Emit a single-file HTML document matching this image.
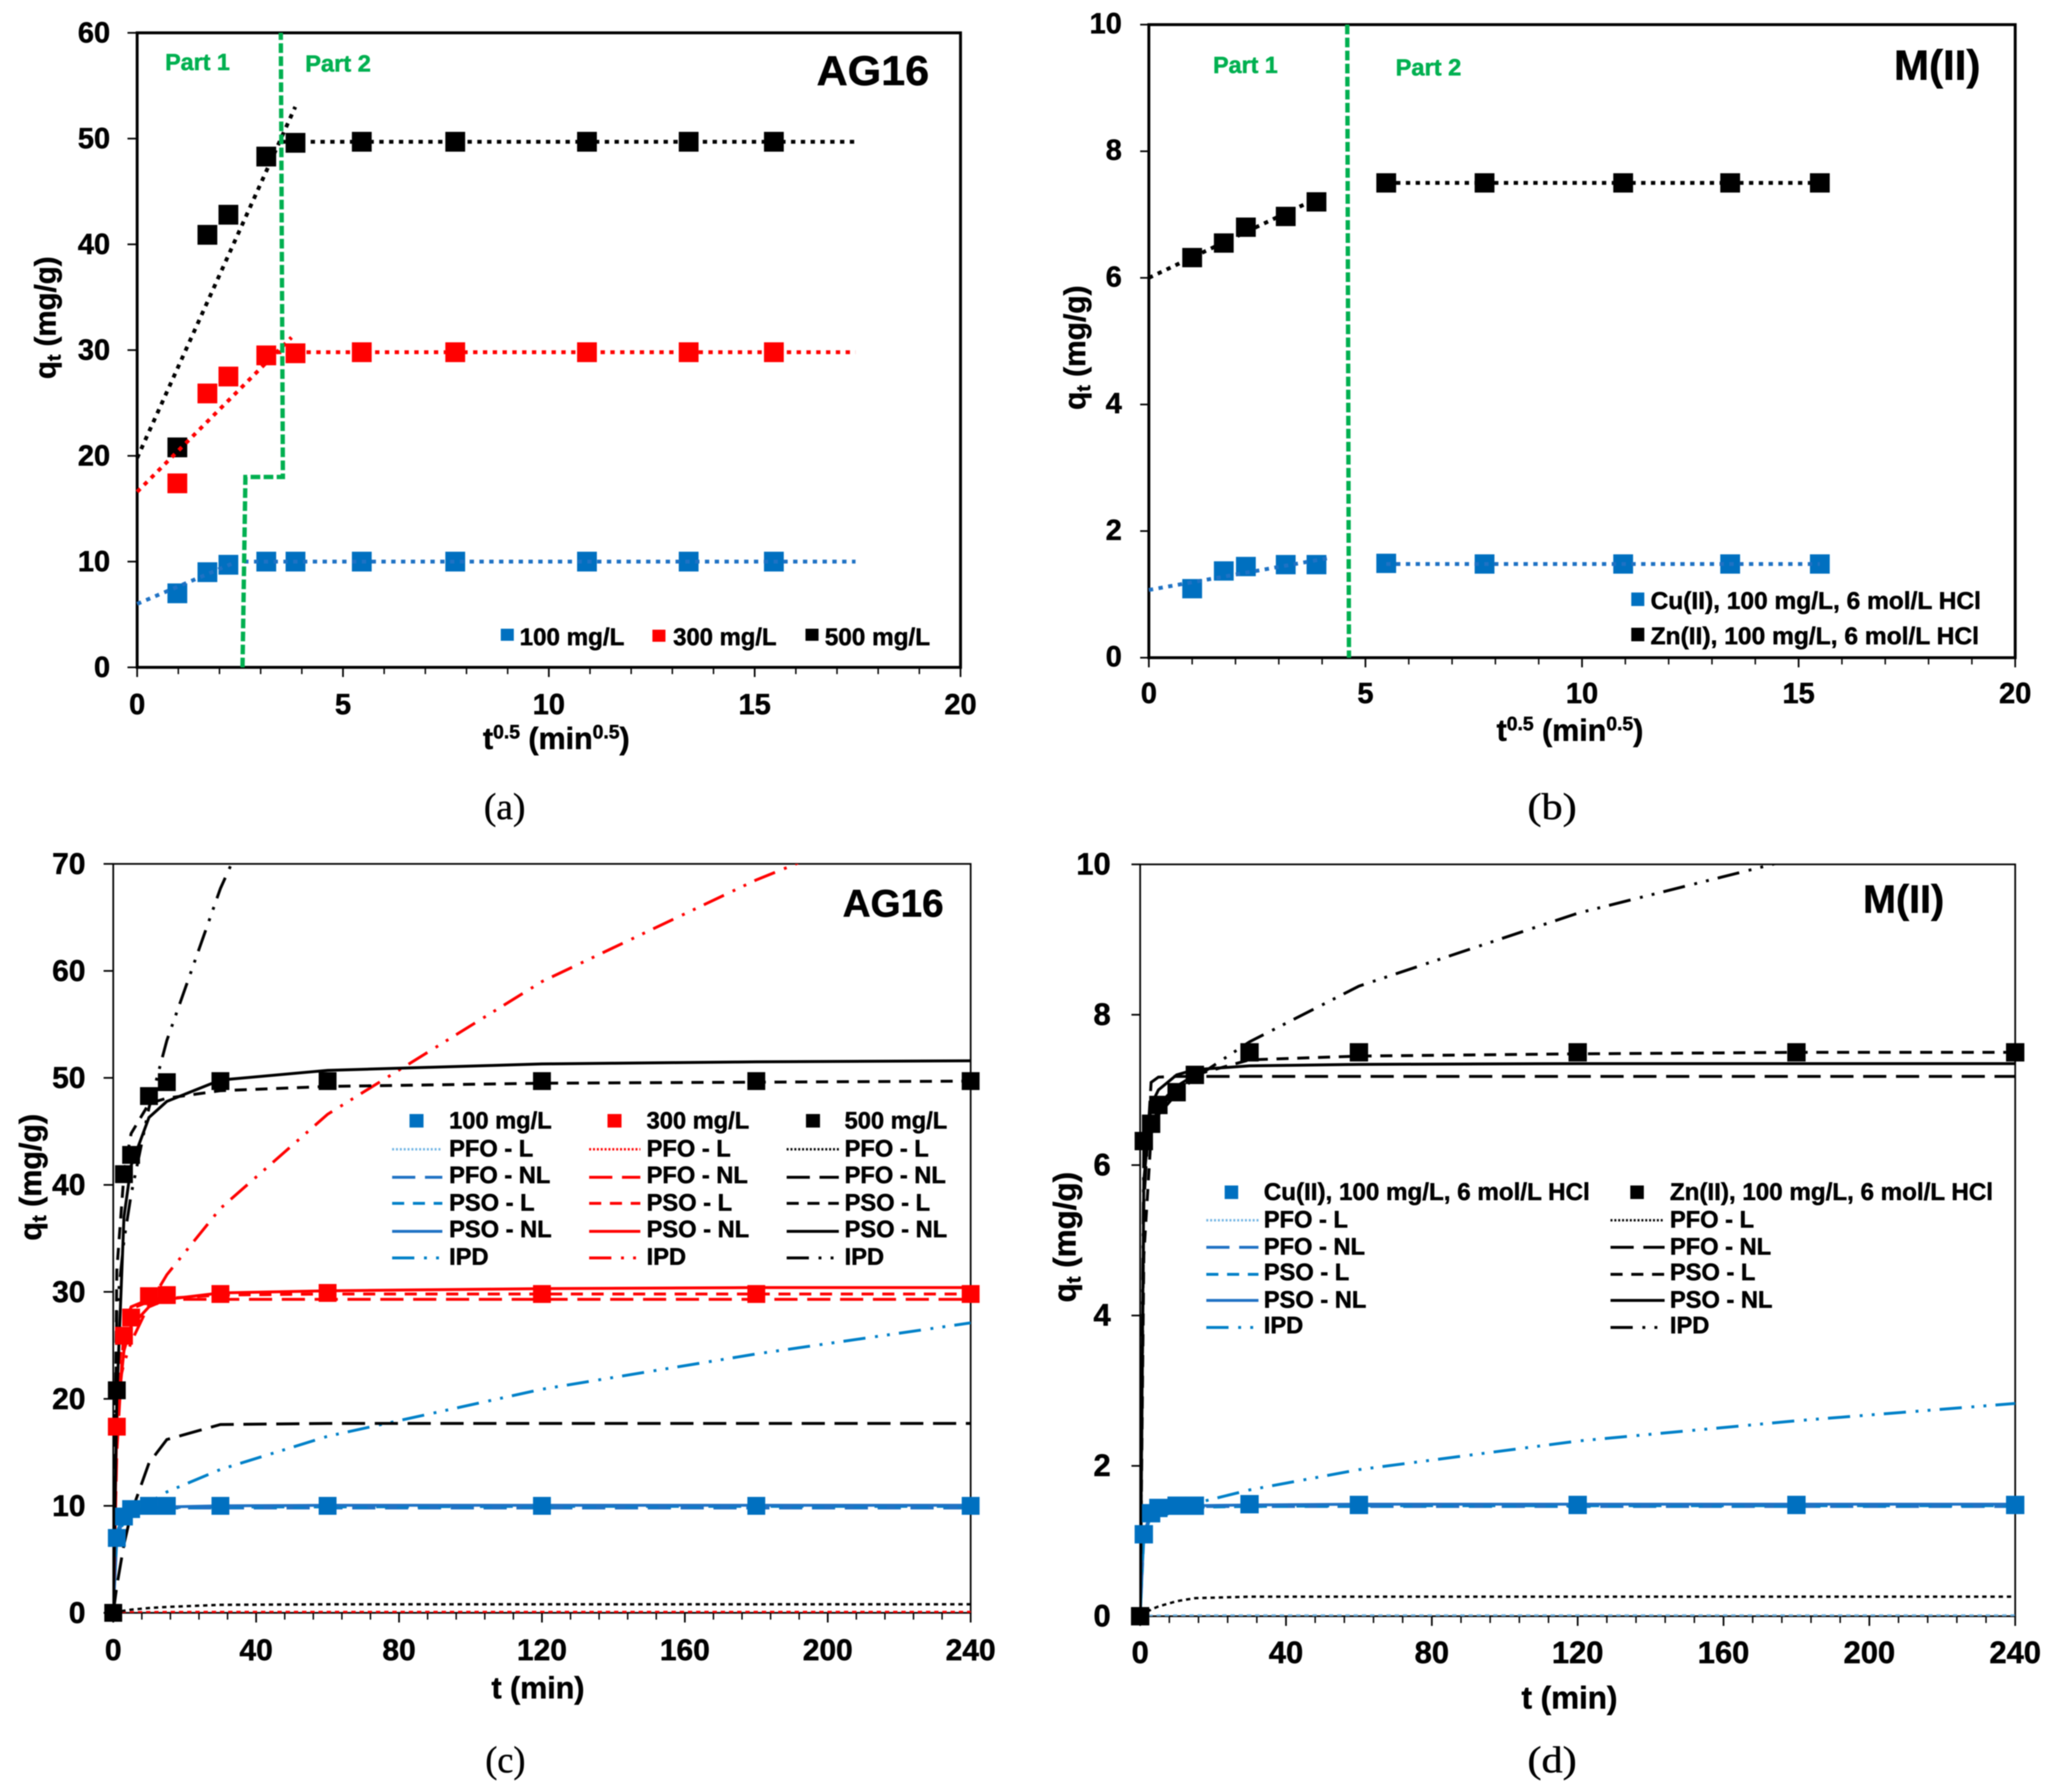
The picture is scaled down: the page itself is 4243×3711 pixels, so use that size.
<!DOCTYPE html>
<html lang="en">
<head>
<meta charset="utf-8">
<title>Adsorption kinetics of AG16 and M(II)</title>
<style>
html,body{margin:0;padding:0;background:#fff}
svg{display:block;filter:blur(1px)}
text{font-family:"Liberation Sans",sans-serif;font-weight:700;fill:#000;stroke:#000;stroke-width:1}
.caption{font-family:"Liberation Serif",serif;font-weight:400;font-size:77px;stroke-width:.8}
.part{fill:#00b050;stroke:#00b050;font-size:48px}
.lg{font-size:49px}
.fit{fill:none;stroke-width:8;stroke-dasharray:9 11.3}
.boundary{fill:none;stroke:#00b050;stroke-width:9;stroke-dasharray:20 7}
.frame{fill:none;stroke:#000}
.tick{stroke:#000}
.model{fill:none;stroke-width:6}
.pfo-l{stroke-width:5;stroke-dasharray:9 8}
.pfo-nl{stroke-dasharray:48 20}
.pso-l{stroke-dasharray:25 18}
.ipd{stroke-dasharray:46 20 6 19 6 19}
.s100{stroke:#1f72c4}
.s100.pfo-l{stroke:#6fb4e4}
.s100.pso-l,.s100.ipd{stroke:#0080c8}
.s300{stroke:#ff0000}
.s500{stroke:#000}
.sample{stroke-width:6}
.sample.pfo-l{stroke-width:5;stroke-dasharray:4 4}
</style>
</head>
<body>
<svg xmlns="http://www.w3.org/2000/svg" width="4243" height="3711" viewBox="0 0 4243 3711">
<defs>
<clipPath id="clip-c"><rect x="234" y="1789" width="1776" height="1551"/></clipPath>
<clipPath id="clip-d"><rect x="2361" y="1790" width="1812" height="1557"/></clipPath>
</defs>

<!-- Panel (a) -->
<g id="panel-a">
  <g id="a-plot"></g>
  <text x="342" y="145" class="part" textLength="134" lengthAdjust="spacingAndGlyphs">Part 1</text>
  <text x="632" y="148" class="part" textLength="136" lengthAdjust="spacingAndGlyphs">Part 2</text>
  <text x="1691" y="176" font-size="86" textLength="233" lengthAdjust="spacingAndGlyphs">AG16</text>
  <text transform="translate(115,658) rotate(-90)" text-anchor="middle" font-size="61">q<tspan dy="10" font-size="40">t</tspan><tspan dy="-10"> (mg/g)</tspan></text>
  <text x="1152" y="1551" text-anchor="middle" font-size="63">t<tspan dy="-22" font-size="40">0.5</tspan><tspan dy="22"> (min</tspan><tspan dy="-22" font-size="40">0.5</tspan><tspan dy="22">)</tspan></text>
  <g>
    <rect x="1037" y="1302" width="27" height="25" fill="#0070c0"/>
    <text x="1076" y="1336" font-size="50" textLength="217" lengthAdjust="spacingAndGlyphs">100 mg/L</text>
  </g>
  <g>
    <rect x="1351" y="1304" width="27" height="25" fill="#ff0000"/>
    <text x="1394" y="1336" font-size="50" textLength="214" lengthAdjust="spacingAndGlyphs">300 mg/L</text>
  </g>
  <g>
    <rect x="1668" y="1302" width="27" height="25" fill="#000"/>
    <text x="1708" y="1336" font-size="50" textLength="218" lengthAdjust="spacingAndGlyphs">500 mg/L</text>
  </g>
  <text x="1002" y="1696" class="caption" textLength="86" lengthAdjust="spacingAndGlyphs">(a)</text>
</g>

<!-- Panel (b) -->
<g id="panel-b">
  <g id="b-plot"></g>
  <text x="2512" y="151" class="part" textLength="134" lengthAdjust="spacingAndGlyphs">Part 1</text>
  <text x="2890" y="156" class="part" textLength="136" lengthAdjust="spacingAndGlyphs">Part 2</text>
  <text x="3922" y="165" font-size="87" textLength="179" lengthAdjust="spacingAndGlyphs">M(II)</text>
  <text transform="translate(2247,720) rotate(-90)" text-anchor="middle" font-size="62">q<tspan dy="10" font-size="40">t</tspan><tspan dy="-10"> (mg/g)</tspan></text>
  <text x="3251" y="1534" text-anchor="middle" font-size="63">t<tspan dy="-22" font-size="40">0.5</tspan><tspan dy="22"> (min</tspan><tspan dy="-22" font-size="40">0.5</tspan><tspan dy="22">)</tspan></text>
  <g>
    <rect x="3378" y="1227" width="27" height="28" fill="#0070c0"/>
    <text x="3418" y="1261" font-size="50" textLength="684" lengthAdjust="spacingAndGlyphs">Cu(II), 100 mg/L, 6 mol/L HCl</text>
  </g>
  <g>
    <rect x="3378" y="1300" width="27" height="28" fill="#000"/>
    <text x="3418" y="1334" font-size="50" textLength="680" lengthAdjust="spacingAndGlyphs">Zn(II), 100 mg/L, 6 mol/L HCl</text>
  </g>
  <text x="3163" y="1696" class="caption" textLength="102" lengthAdjust="spacingAndGlyphs">(b)</text>
</g>

<!-- Panel (c) -->
<g id="panel-c">
  <g id="c-plot"></g>
  <text x="1745" y="1898" font-size="80" textLength="209" lengthAdjust="spacingAndGlyphs">AG16</text>
  <text transform="translate(85,2438) rotate(-90)" text-anchor="middle" font-size="63">q<tspan dy="10" font-size="42">t</tspan><tspan dy="-10"> (mg/g)</tspan></text>
  <text x="1114" y="3517" text-anchor="middle" font-size="63">t (min)</text>
  <g>
    <rect x="848" y="2307" width="29" height="28" fill="#0070c0"/>
    <rect x="1258" y="2307" width="29" height="28" fill="#ff0000"/>
    <rect x="1669" y="2307" width="29" height="28" fill="#000"/>
    <text x="930" y="2337" class="lg">100 mg/L</text>
    <text x="1339" y="2337" class="lg">300 mg/L</text>
    <text x="1749" y="2337" class="lg">500 mg/L</text>
  </g>
  <g>
    <line x1="812" x2="916" y1="2380" y2="2380" class="model sample s100 pfo-l"/>
    <text x="930" y="2395" class="lg">PFO - L</text>
    <line x1="812" x2="916" y1="2438" y2="2438" class="model sample s100 pfo-nl"/>
    <text x="930" y="2450" class="lg">PFO - NL</text>
    <line x1="812" x2="916" y1="2492" y2="2492" class="model sample s100 pso-l"/>
    <text x="930" y="2507" class="lg">PSO - L</text>
    <line x1="812" x2="916" y1="2550" y2="2550" class="model sample s100"/>
    <text x="930" y="2562" class="lg">PSO - NL</text>
    <line x1="812" x2="916" y1="2605" y2="2605" class="model sample s100 ipd"/>
    <text x="930" y="2619" class="lg">IPD</text>
  </g>
  <g>
    <line x1="1220" x2="1326" y1="2380" y2="2380" class="model sample s300 pfo-l"/>
    <text x="1339" y="2395" class="lg">PFO - L</text>
    <line x1="1220" x2="1326" y1="2438" y2="2438" class="model sample s300 pfo-nl"/>
    <text x="1339" y="2450" class="lg">PFO - NL</text>
    <line x1="1220" x2="1326" y1="2492" y2="2492" class="model sample s300 pso-l"/>
    <text x="1339" y="2507" class="lg">PSO - L</text>
    <line x1="1220" x2="1326" y1="2550" y2="2550" class="model sample s300"/>
    <text x="1339" y="2562" class="lg">PSO - NL</text>
    <line x1="1220" x2="1326" y1="2605" y2="2605" class="model sample s300 ipd"/>
    <text x="1339" y="2619" class="lg">IPD</text>
  </g>
  <g>
    <line x1="1629" x2="1737" y1="2380" y2="2380" class="model sample s500 pfo-l"/>
    <text x="1749" y="2395" class="lg">PFO - L</text>
    <line x1="1629" x2="1737" y1="2438" y2="2438" class="model sample s500 pfo-nl"/>
    <text x="1749" y="2450" class="lg">PFO - NL</text>
    <line x1="1629" x2="1737" y1="2492" y2="2492" class="model sample s500 pso-l"/>
    <text x="1749" y="2507" class="lg">PSO - L</text>
    <line x1="1629" x2="1737" y1="2550" y2="2550" class="model sample s500"/>
    <text x="1749" y="2562" class="lg">PSO - NL</text>
    <line x1="1629" x2="1737" y1="2605" y2="2605" class="model sample s500 ipd"/>
    <text x="1749" y="2619" class="lg">IPD</text>
  </g>
  <text x="1005" y="3670" class="caption" textLength="83" lengthAdjust="spacingAndGlyphs">(c)</text>
</g>

<!-- Panel (d) -->
<g id="panel-d">
  <g id="d-plot"></g>
  <text x="3858" y="1890" font-size="82" textLength="168" lengthAdjust="spacingAndGlyphs">M(II)</text>
  <text transform="translate(2227,2562) rotate(-90)" text-anchor="middle" font-size="65">q<tspan dy="10" font-size="42">t</tspan><tspan dy="-10"> (mg/g)</tspan></text>
  <text x="3250" y="3538" text-anchor="middle" font-size="65">t (min)</text>
  <g>
    <rect x="2536" y="2455" width="28" height="28" fill="#0070c0"/>
    <text x="2617" y="2485" font-size="50" textLength="675" lengthAdjust="spacingAndGlyphs">Cu(II), 100 mg/L, 6 mol/L HCl</text>
    <line x1="2498" x2="2606" y1="2527" y2="2527" class="model sample s100 pfo-l"/>
    <text x="2617" y="2542" class="lg">PFO - L</text>
    <line x1="2498" x2="2606" y1="2583" y2="2583" class="model sample s100 pfo-nl"/>
    <text x="2617" y="2598" class="lg">PFO - NL</text>
    <line x1="2498" x2="2606" y1="2639" y2="2639" class="model sample s100 pso-l"/>
    <text x="2617" y="2651" class="lg">PSO - L</text>
    <line x1="2498" x2="2606" y1="2693" y2="2693" class="model sample s100"/>
    <text x="2617" y="2708" class="lg">PSO - NL</text>
    <line x1="2498" x2="2606" y1="2749" y2="2749" class="model sample s100 ipd"/>
    <text x="2617" y="2761" class="lg">IPD</text>
  </g>
  <g>
    <rect x="3376" y="2455" width="28" height="28" fill="#000"/>
    <text x="3458" y="2485" font-size="50" textLength="669" lengthAdjust="spacingAndGlyphs">Zn(II), 100 mg/L, 6 mol/L HCl</text>
    <line x1="3335" x2="3447" y1="2527" y2="2527" class="model sample s500 pfo-l"/>
    <text x="3458" y="2542" class="lg">PFO - L</text>
    <line x1="3335" x2="3447" y1="2583" y2="2583" class="model sample s500 pfo-nl"/>
    <text x="3458" y="2598" class="lg">PFO - NL</text>
    <line x1="3335" x2="3447" y1="2639" y2="2639" class="model sample s500 pso-l"/>
    <text x="3458" y="2651" class="lg">PSO - L</text>
    <line x1="3335" x2="3447" y1="2693" y2="2693" class="model sample s500"/>
    <text x="3458" y="2708" class="lg">PSO - NL</text>
    <line x1="3335" x2="3447" y1="2749" y2="2749" class="model sample s500 ipd"/>
    <text x="3458" y="2761" class="lg">IPD</text>
  </g>
  <text x="3163" y="3670" class="caption" textLength="102" lengthAdjust="spacingAndGlyphs">(d)</text>
</g>
</svg>

<script>
/* ---------- shared categories ---------- */
const rootTime = [1, 1.73, 2.24, 3.16, 3.87, 5.48, 7.75, 10.95, 13.42, 15.49];
const minutes = [0, 1, 3, 5, 10, 15, 30, 60, 120, 180, 240];

/* ---------- tick labels ---------- */
const rootTimeTicks = [0, 5, 10, 15, 20];
const minuteTicks = [0, 40, 80, 120, 160, 200, 240];
const aYTicks = [0, 10, 20, 30, 40, 50, 60];
const bYTicks = [0, 2, 4, 6, 8, 10];
const cYTicks = [0, 10, 20, 30, 40, 50, 60, 70];
const dYTicks = [0, 2, 4, 6, 8, 10];

/* ---------- panel (a) values ---------- */
const a100 = [7.0, 9.0, 9.7, 10.0, 10.0, 10.0, 10.0, 10.0, 10.0, 10.0];
const a300 = [17.4, 25.9, 27.5, 29.5, 29.7, 29.8, 29.8, 29.8, 29.8, 29.8];
const a500 = [20.8, 40.9, 42.8, 48.3, 49.6, 49.7, 49.7, 49.7, 49.7, 49.7];
const aFit100Part1X = [0, 2.3];
const aFit100Part1Y = [6.0, 9.8];
const aFit100Part2X = [2.6, 17.45];
const aFit100Part2Y = [10.0, 10.0];
const aFit300Part1X = [0, 3.75];
const aFit300Part1Y = [16.6, 31.2];
const aFit300Part2X = [3.16, 17.45];
const aFit300Part2Y = [29.8, 29.8];
const aFit500Part1X = [0, 3.84];
const aFit500Part1Y = [19.8, 53.0];
const aFit500Part2X = [3.5, 17.55];
const aFit500Part2Y = [49.7, 49.7];
const aBoundaryX = [2.56, 2.63, 3.54, 3.49];
const aBoundaryY = [0, 18, 18, 60];

/* ---------- panel (b) values ---------- */
const bCu = [1.09, 1.37, 1.44, 1.47, 1.47, 1.49, 1.48, 1.48, 1.48, 1.48];
const bZn = [6.32, 6.55, 6.8, 6.97, 7.2, 7.5, 7.5, 7.5, 7.5, 7.5];
const bFitCuPart1X = [0, 4.2];
const bFitCuPart1Y = [1.07, 1.58];
const bFitCuPart2X = [5.48, 15.49];
const bFitCuPart2Y = [1.48, 1.48];
const bFitZnPart1X = [0, 3.87];
const bFitZnPart1Y = [6.0, 7.25];
const bFitZnPart2X = [5.48, 15.49];
const bFitZnPart2Y = [7.5, 7.5];
const bBoundaryX = [4.58, 4.62];
const bBoundaryY = [10, 0];

/* ---------- panel (c) values ---------- */
const c100 = [0, 7.0, 9.0, 9.7, 10.0, 10.0, 10.0, 10.0, 10.0, 10.0, 10.0];
const c300 = [0, 17.4, 25.9, 27.6, 29.6, 29.7, 29.8, 29.9, 29.8, 29.8, 29.8];
const c500 = [0, 20.8, 41.0, 42.8, 48.3, 49.6, 49.7, 49.7, 49.7, 49.7, 49.7];
const c100PfoL = [0, 0.02, 0.04, 0.05, 0.06, 0.06, 0.07, 0.07, 0.07, 0.07, 0.07];
const c100PfoNl = [0, 7.0, 9.0, 9.6, 9.8, 9.8, 9.8, 9.8, 9.8, 9.8, 9.8];
const c100PsoL = [0, 7.5, 9.2, 9.5, 9.8, 9.85, 9.9, 9.9, 9.95, 9.95, 9.95];
const c100PsoNl = [0, 6.9, 9.0, 9.5, 9.8, 9.9, 10.0, 10.05, 10.05, 10.05, 10.05];
const c100Ipd = [0, 7.4, 8.4, 9.0, 10.3, 11.3, 13.4, 16.5, 20.9, 24.2, 27.1];
const c300PfoL = [0, 0.02, 0.04, 0.05, 0.06, 0.07, 0.08, 0.08, 0.08, 0.08, 0.08];
const c300PfoNl = [0, 15.0, 26.8, 28.6, 29.3, 29.3, 29.3, 29.3, 29.3, 29.3, 29.3];
const c300PsoL = [0, 21.0, 27.0, 28.4, 29.1, 29.4, 29.7, 29.8, 29.8, 29.8, 29.8];
const c300PsoNl = [0, 18.0, 24.5, 26.8, 28.6, 29.3, 29.9, 30.1, 30.3, 30.4, 30.4];
const c300Ipd = [0, 20.5, 23.3, 25.3, 28.8, 31.6, 37.8, 46.6, 59.0, 68.5, 76.6];
const c500PfoL = [0, 0.1, 0.2, 0.3, 0.45, 0.55, 0.75, 0.8, 0.8, 0.8, 0.8];
const c500PfoNl = [0, 2.5, 6.4, 9.3, 14.0, 16.2, 17.6, 17.7, 17.7, 17.7, 17.7];
const c500PsoL = [0, 32.0, 41.0, 44.8, 47.6, 48.1, 48.8, 49.2, 49.5, 49.6, 49.7];
const c500PsoNl = [0, 20.0, 37.0, 41.8, 46.3, 47.8, 49.8, 50.7, 51.3, 51.5, 51.6];
const c500Ipd = [0, 28.4, 34.8, 39.1, 47.2, 53.5, 67.7, 90.0, 114.0, 135.0, 153.0];

/* ---------- panel (d) values ---------- */
const dCu = [0, 1.09, 1.37, 1.44, 1.47, 1.47, 1.49, 1.48, 1.48, 1.48, 1.48];
const dZn = [0, 6.32, 6.55, 6.8, 6.97, 7.2, 7.5, 7.5, 7.5, 7.5, 7.5];
const dCuPfoL = [0, 0.002, 0.005, 0.007, 0.009, 0.01, 0.01, 0.01, 0.01, 0.01, 0.01];
const dCuPfoNl = [0, 1.25, 1.42, 1.45, 1.46, 1.46, 1.46, 1.46, 1.46, 1.46, 1.46];
const dCuPsoL = [0, 1.05, 1.35, 1.4, 1.44, 1.45, 1.46, 1.47, 1.47, 1.47, 1.47];
const dCuPsoNl = [0, 1.1, 1.38, 1.43, 1.46, 1.47, 1.48, 1.49, 1.49, 1.49, 1.49];
const dCuIpd = [0, 1.15, 1.25, 1.3, 1.42, 1.5, 1.68, 1.95, 2.33, 2.6, 2.83];
const dZnPfoL = [0, 0.03, 0.09, 0.13, 0.2, 0.24, 0.26, 0.26, 0.26, 0.26, 0.26];
const dZnPfoNl = [0, 5.5, 7.1, 7.17, 7.18, 7.18, 7.18, 7.18, 7.18, 7.18, 7.18];
const dZnPsoL = [0, 4.8, 6.4, 6.8, 7.05, 7.2, 7.4, 7.45, 7.48, 7.5, 7.5];
const dZnPsoNl = [0, 5.8, 6.8, 7.0, 7.2, 7.27, 7.32, 7.34, 7.35, 7.35, 7.35];
const dZnIpd = [0, 6.3, 6.52, 6.67, 6.95, 7.16, 7.64, 8.38, 9.35, 10.08, 10.7];

/* ---------- drawing helpers ---------- */
const SVG_NS = 'http://www.w3.org/2000/svg';

function linearScale(d0, d1, p0, p1) {
  return function (v) { return p0 + (v - d0) * (p1 - p0) / (d1 - d0); };
}

function drawLine(parent, x1, y1, x2, y2, width, name) {
  const el = document.createElementNS(SVG_NS, 'line');
  
  
  el.setAttribute('x1', x1);
  el.setAttribute('y1', y1);
  el.setAttribute('x2', x2);
  el.setAttribute('y2', y2);
  el.setAttribute('class', 'tick');
  el.setAttribute('stroke-width', width);
  parent.appendChild(el);
}

function drawLabel(parent, x, y, anchor, size, value, name) {
  const el = document.createElementNS(SVG_NS, 'text');
  
  
  el.setAttribute('x', x);
  el.setAttribute('y', y);
  el.setAttribute('text-anchor', anchor);
  el.setAttribute('font-size', size);
  el.textContent = String(value);
  parent.appendChild(el);
}

function drawSeries(parent, xs, ys, sx, sy, cls, name, clip) {
  const el = document.createElementNS(SVG_NS, 'polyline');
  
  
  el.setAttribute('points', xs.map(function (x, i) { return sx(x).toFixed(1) + ',' + sy(ys[i]).toFixed(1); }).join(' '));
  el.setAttribute('class', cls);
  if (clip) el.setAttribute('clip-path', 'url(#' + clip + ')');
  parent.appendChild(el);
}

function drawMarkers(parent, xs, ys, sx, sy, w, h, fill, name) {
  xs.forEach(function (x, i) {
    const el = document.createElementNS(SVG_NS, 'rect');
    
    
    el.setAttribute('x', sx(x) - w / 2);
    el.setAttribute('y', sy(ys[i]) - h / 2);
    el.setAttribute('width', w);
    el.setAttribute('height', h);
    el.setAttribute('fill', fill);
    parent.appendChild(el);
  });
}

function drawAxes(parent, opt) {
  const sx = opt.sx, sy = opt.sy;
  const left = sx(0), right = sx(opt.xMax);
  const bottom = sy(0), top = sy(opt.yMax);
  const frame = document.createElementNS(SVG_NS, 'rect');
  
  
  frame.setAttribute('x', left);
  frame.setAttribute('y', top);
  frame.setAttribute('width', right - left);
  frame.setAttribute('height', bottom - top);
  frame.setAttribute('class', 'frame');
  frame.setAttribute('stroke-width', opt.frameWidth);
  parent.appendChild(frame);
  for (let v = 0; v <= opt.xMax + 1e-6; v += opt.xMinor) {
    drawLine(parent, sx(v), bottom, sx(v), bottom + opt.minorLen, 3, 'x-minor-tick');
  }
  opt.xTicks.forEach(function (v) {
    drawLine(parent, sx(v), bottom, sx(v), bottom + opt.majorLen, 3.5, 'x-major-tick');
    drawLabel(parent, sx(v), opt.xLabelY, 'middle', opt.fontSize, v, 'x-tick-label');
  });
  opt.yTicks.forEach(function (v) {
    drawLine(parent, left - opt.yTickLen, sy(v), left, sy(v), 3.5, 'y-major-tick');
    drawLabel(parent, opt.yLabelX, sy(v) + opt.yLabelShift, 'end', opt.fontSize, v, 'y-tick-label');
  });
}

/* ---------- panel (a) ---------- */
(function () {
  const g = document.getElementById('a-plot');
  const sx = linearScale(0, 20, 284, 1989);
  const sy = linearScale(0, 60, 1382, 68);
  const markerX = linearScale(0, 20, 282, 1987);
  drawAxes(g, { sx: sx, sy: sy, xMax: 20, yMax: 60, xMinor: 1, xTicks: rootTimeTicks, yTicks: aYTicks,
    frameWidth: 6, minorLen: 14, majorLen: 20, yTickLen: 20, fontSize: 60, xLabelY: 1479, yLabelX: 228, yLabelShift: 20 });
  drawMarkers(g, rootTime, a100, markerX, sy, 41, 41, '#0070c0', 'marker-100-mg-l');
  drawMarkers(g, rootTime, a300, markerX, sy, 41, 41, '#ff0000', 'marker-300-mg-l');
  drawMarkers(g, rootTime, a500, markerX, sy, 41, 41, '#000000', 'marker-500-mg-l');
  drawSeries(g, aFit100Part1X, aFit100Part1Y, sx, sy, 'fit s100', 'fit-100-part-1');
  drawSeries(g, aFit100Part2X, aFit100Part2Y, sx, sy, 'fit s100', 'fit-100-part-2');
  drawSeries(g, aFit300Part1X, aFit300Part1Y, sx, sy, 'fit s300', 'fit-300-part-1');
  drawSeries(g, aFit300Part2X, aFit300Part2Y, sx, sy, 'fit s300', 'fit-300-part-2');
  drawSeries(g, aFit500Part1X, aFit500Part1Y, sx, sy, 'fit s500', 'fit-500-part-1');
  drawSeries(g, aFit500Part2X, aFit500Part2Y, sx, sy, 'fit s500', 'fit-500-part-2');
  drawSeries(g, aBoundaryX, aBoundaryY, sx, sy, 'boundary', 'part-boundary');
})();

/* ---------- panel (b) ---------- */
(function () {
  const g = document.getElementById('b-plot');
  const sx = linearScale(0, 20, 2379, 4173);
  const sy = linearScale(0, 10, 1362, 51);
  drawAxes(g, { sx: sx, sy: sy, xMax: 20, yMax: 10, xMinor: 1, xTicks: rootTimeTicks, yTicks: bYTicks,
    frameWidth: 6, minorLen: 14, majorLen: 20, yTickLen: 18, fontSize: 60, xLabelY: 1456, yLabelX: 2323, yLabelShift: 18 });
  drawMarkers(g, rootTime, bCu, sx, sy, 41, 40, '#0070c0', 'marker-cu');
  drawMarkers(g, rootTime, bZn, sx, sy, 41, 40, '#000000', 'marker-zn');
  drawSeries(g, bFitCuPart1X, bFitCuPart1Y, sx, sy, 'fit s100', 'fit-cu-part-1');
  drawSeries(g, bFitCuPart2X, bFitCuPart2Y, sx, sy, 'fit s100', 'fit-cu-part-2');
  drawSeries(g, bFitZnPart1X, bFitZnPart1Y, sx, sy, 'fit s500', 'fit-zn-part-1');
  drawSeries(g, bFitZnPart2X, bFitZnPart2Y, sx, sy, 'fit s500', 'fit-zn-part-2');
  drawSeries(g, bBoundaryX, bBoundaryY, sx, sy, 'boundary', 'part-boundary');
})();

/* ---------- panel (c) ---------- */
(function () {
  const g = document.getElementById('c-plot');
  const sx = linearScale(0, 240, 234.5, 2010);
  const sy = linearScale(0, 70, 3340, 1789);
  drawAxes(g, { sx: sx, sy: sy, xMax: 240, yMax: 70, xMinor: 8, xTicks: minuteTicks, yTicks: cYTicks,
    frameWidth: 3.5, minorLen: 14, majorLen: 20, yTickLen: 20, fontSize: 62, xLabelY: 3438, yLabelX: 177, yLabelShift: 21 });
  drawSeries(g, minutes, c100PfoL, sx, sy, 'model s100 pfo-l', 'curve-100-pfo-l', 'clip-c');
  drawSeries(g, minutes, c100PfoNl, sx, sy, 'model s100 pfo-nl', 'curve-100-pfo-nl', 'clip-c');
  drawSeries(g, minutes, c100PsoL, sx, sy, 'model s100 pso-l', 'curve-100-pso-l', 'clip-c');
  drawSeries(g, minutes, c100PsoNl, sx, sy, 'model s100', 'curve-100-pso-nl', 'clip-c');
  drawSeries(g, minutes, c100Ipd, sx, sy, 'model s100 ipd', 'curve-100-ipd', 'clip-c');
  drawSeries(g, minutes, c300PfoL, sx, sy, 'model s300 pfo-l', 'curve-300-pfo-l', 'clip-c');
  drawSeries(g, minutes, c300PfoNl, sx, sy, 'model s300 pfo-nl', 'curve-300-pfo-nl', 'clip-c');
  drawSeries(g, minutes, c300PsoL, sx, sy, 'model s300 pso-l', 'curve-300-pso-l', 'clip-c');
  drawSeries(g, minutes, c300PsoNl, sx, sy, 'model s300', 'curve-300-pso-nl', 'clip-c');
  drawSeries(g, minutes, c300Ipd, sx, sy, 'model s300 ipd', 'curve-300-ipd', 'clip-c');
  drawSeries(g, minutes, c500PfoL, sx, sy, 'model s500 pfo-l', 'curve-500-pfo-l', 'clip-c');
  drawSeries(g, minutes, c500PfoNl, sx, sy, 'model s500 pfo-nl', 'curve-500-pfo-nl', 'clip-c');
  drawSeries(g, minutes, c500PsoL, sx, sy, 'model s500 pso-l', 'curve-500-pso-l', 'clip-c');
  drawSeries(g, minutes, c500PsoNl, sx, sy, 'model s500', 'curve-500-pso-nl', 'clip-c');
  drawSeries(g, minutes, c500Ipd, sx, sy, 'model s500 ipd', 'curve-500-ipd', 'clip-c');
  drawMarkers(g, minutes, c100, sx, sy, 37, 37, '#0070c0', 'marker-100-mg-l');
  drawMarkers(g, minutes, c300, sx, sy, 37, 37, '#ff0000', 'marker-300-mg-l');
  drawMarkers(g, minutes, c500, sx, sy, 37, 37, '#000000', 'marker-500-mg-l');
})();

/* ---------- panel (d) ---------- */
(function () {
  const g = document.getElementById('d-plot');
  const sx = linearScale(0, 240, 2361, 4173);
  const sy = linearScale(0, 10, 3347, 1790);
  drawAxes(g, { sx: sx, sy: sy, xMax: 240, yMax: 10, xMinor: 8, xTicks: minuteTicks, yTicks: dYTicks,
    frameWidth: 3.5, minorLen: 14, majorLen: 20, yTickLen: 18, fontSize: 64, xLabelY: 3444, yLabelX: 2300, yLabelShift: 21 });
  drawSeries(g, minutes, dCuPfoL, sx, sy, 'model s100 pfo-l', 'curve-cu-pfo-l', 'clip-d');
  drawSeries(g, minutes, dCuPfoNl, sx, sy, 'model s100 pfo-nl', 'curve-cu-pfo-nl', 'clip-d');
  drawSeries(g, minutes, dCuPsoL, sx, sy, 'model s100 pso-l', 'curve-cu-pso-l', 'clip-d');
  drawSeries(g, minutes, dCuPsoNl, sx, sy, 'model s100', 'curve-cu-pso-nl', 'clip-d');
  drawSeries(g, minutes, dCuIpd, sx, sy, 'model s100 ipd', 'curve-cu-ipd', 'clip-d');
  drawSeries(g, minutes, dZnPfoL, sx, sy, 'model s500 pfo-l', 'curve-zn-pfo-l', 'clip-d');
  drawSeries(g, minutes, dZnPfoNl, sx, sy, 'model s500 pfo-nl', 'curve-zn-pfo-nl', 'clip-d');
  drawSeries(g, minutes, dZnPsoL, sx, sy, 'model s500 pso-l', 'curve-zn-pso-l', 'clip-d');
  drawSeries(g, minutes, dZnPsoNl, sx, sy, 'model s500', 'curve-zn-pso-nl', 'clip-d');
  drawSeries(g, minutes, dZnIpd, sx, sy, 'model s500 ipd', 'curve-zn-ipd', 'clip-d');
  drawMarkers(g, minutes, dCu, sx, sy, 38, 38, '#0070c0', 'marker-cu');
  drawMarkers(g, minutes, dZn, sx, sy, 38, 38, '#000000', 'marker-zn');
})();
</script>
</body>
</html>
